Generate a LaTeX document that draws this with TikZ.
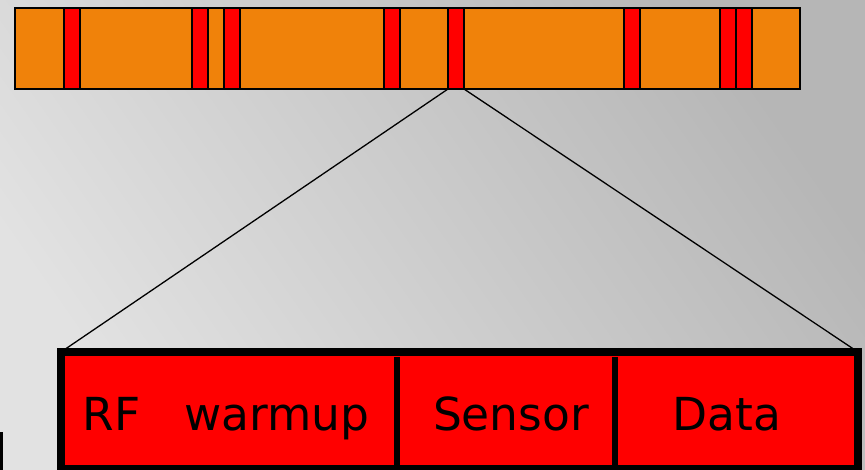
\documentclass[tikz,border=0pt]{standalone}
\usepackage{fontspec}
\setmainfont{DejaVu Sans}
\usetikzlibrary{positioning}

\definecolor{slotorange}{RGB}{240,130,10}
\definecolor{slotred}{RGB}{255,0,0}
\definecolor{bglight}{RGB}{226,226,226}
\definecolor{bgdark}{RGB}{182,182,182}

\tikzset{
  barbox/.style={draw=black, line width=1.5pt, fill=slotorange, inner sep=0pt, outer sep=0pt, anchor=north west},
  slotbox/.style={draw=black, line width=1.2pt, fill=slotred, inner sep=0pt, outer sep=0pt,
    minimum width=16pt, minimum height=81pt, anchor=north west},
  framebox/.style={draw=black, line width=7.5pt, fill=slotred, inner sep=0pt, outer sep=0pt, anchor=north west},
  celltext/.style={font=\fontsize{45.5}{50}\selectfont, anchor=base, inner sep=0pt}
}

\begin{document}
\begin{tikzpicture}[x=1pt, y=-1pt]

\useasboundingbox (0,0) rectangle (865,470);
\shade[top color=bgdark, bottom color=bglight, shading angle=-55] (0,0) rectangle (865,470);

% Frame bar with slots
\node[barbox, minimum width=785pt, minimum height=81pt] (bar) at (15,8) {};
\foreach \x in {64,192,224,384,624,720,736}
  \node[slotbox] at (\x,8) {};
\node[slotbox] (slot) at (448,8) {};

% Expanded slot
\node[framebox, minimum width=797pt, minimum height=117pt] (frame) at (61,352) {};
\draw[line width=1.3pt] (slot.south west) -- (frame.north west);
\draw[line width=1.3pt] (slot.south east) -- (frame.north east);

\coordinate (d1top) at (397,357);
\coordinate (d1bot) at (397,470);
\coordinate (d2top) at (615,357);
\coordinate (d2bot) at (615,470);
\draw[line width=6pt] (d1top) -- (d1bot);
\draw[line width=5.5pt] (d2top) -- (d2bot);

\node[celltext] (rf) at (226,430) {RF~~~warmup};
\node[celltext] (sensor) at (511,430) {Sensor};
\node[celltext] (data) at (727,430) {Data};

% piece of the next box
\fill[black] (0,432) rectangle (3,470);

\end{tikzpicture}
\end{document}
